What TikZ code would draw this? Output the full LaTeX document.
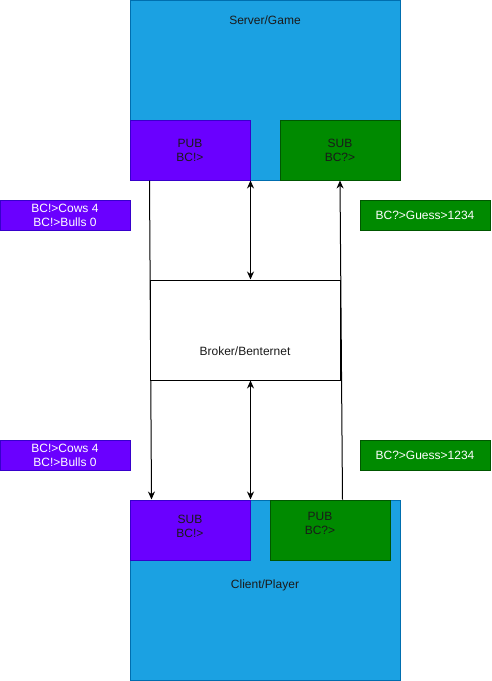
\documentclass[tikz,border=0pt]{standalone}
\usepackage{fontspec}
\setmainfont{Liberation Sans}
\usetikzlibrary{arrows.meta}
\definecolor{srvblue}{HTML}{1BA1E2}
\definecolor{srvline}{HTML}{006EAF}
\definecolor{pubpurple}{HTML}{6A00FF}
\definecolor{publine}{HTML}{3700CC}
\definecolor{subgreen}{HTML}{008A00}
\definecolor{subline}{HTML}{005700}
\definecolor{darktext}{HTML}{1A1A1A}
\tikzset{
  box/.style={draw, line width=1pt, inner sep=0pt, align=center, text=darktext},
  bluebox/.style={box, fill=srvblue, draw=srvline, minimum width=270pt, minimum height=180pt},
  purplebox/.style={box, fill=pubpurple, draw=publine, minimum width=120pt, minimum height=60pt},
  greenbox/.style={box, fill=subgreen, draw=subline, minimum width=120pt, minimum height=60pt},
  msg/.style={box, text=white, minimum width=130pt, minimum height=30pt},
  link/.style={line width=1pt, -{Stealth[length=8pt,width=7pt]}},
  twoway/.style={line width=1pt, {Stealth[length=8pt,width=7pt]}-{Stealth[length=8pt,width=7pt]}}
}
\begin{document}
\begin{tikzpicture}[x=1pt, y=-1pt, font=\fontsize{12}{14}\selectfont]
\useasboundingbox (0,0) rectangle (492,681);
% server side
\node[bluebox, label={[anchor=center, text=darktext, yshift=-20.5pt]north:Server/Game}] (server) at (265,90) {};
\node[purplebox] (pubtop) at (190,150) {PUB\\BC!>};
\node[greenbox] (subtop) at (340,150) {SUB\\BC?>};
% client side
\node[bluebox, label={[anchor=center, text=darktext, yshift=5pt]center:Client/Player}] (client) at (265,590) {};
\node[purplebox, label={[anchor=center, text=darktext, yshift=4pt, align=center]center:SUB\\BC!>}] (subbot) at (190,530) {};
\node[greenbox, label={[anchor=center, text=darktext, xshift=-10pt, yshift=7pt, align=center]center:PUB\\BC?>}] (pubbot) at (330,530) {};
% connectors
\draw[link] ([xshift=20pt]pubtop.south west) -- ([xshift=22pt]subbot.north west);
\draw[link] ([xshift=-48pt]pubbot.north east) -- (subtop.south);
% broker
\node[box, fill=white, draw=black, minimum width=190pt, minimum height=100pt,
  label={[anchor=center, text=darktext, yshift=-21pt]center:Broker/Benternet}] (broker) at (245,330) {};
\draw[twoway] (pubtop.south east) -- (pubtop.south east |- broker.north);
\draw[twoway] (subbot.north east |- broker.south) -- (subbot.north east);
% messages
\node[msg, fill=pubpurple, draw=publine] (cowstop) at (65,215) {BC!>Cows 4\\BC!>Bulls 0};
\node[msg, fill=subgreen, draw=subline] (guesstop) at (425,215) {BC?>Guess>1234};
\node[msg, fill=pubpurple, draw=publine] (cowsbot) at (65,455) {BC!>Cows 4\\BC!>Bulls 0};
\node[msg, fill=subgreen, draw=subline] (guessbot) at (425,455) {BC?>Guess>1234};
\end{tikzpicture}
\end{document}
